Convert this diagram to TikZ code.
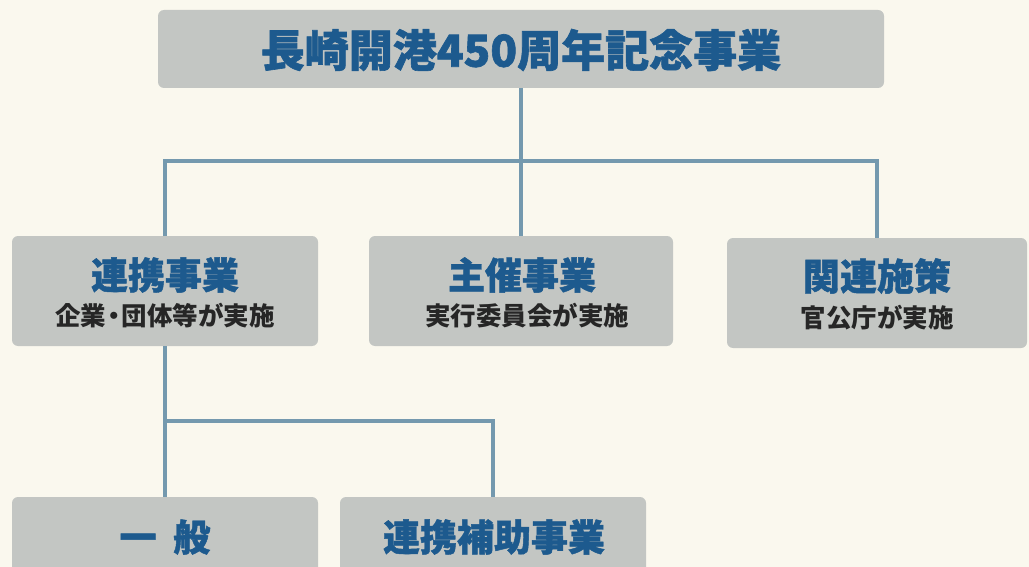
\documentclass[tikz,border=0pt]{standalone}
\usepackage{fontspec}
\newfontfamily\jp{Noto Sans CJK JP}
\definecolor{bgc}{HTML}{FAF8EE}
\definecolor{boxc}{HTML}{C3C6C3}
\definecolor{linec}{HTML}{7499AE}
\definecolor{titlec}{HTML}{1D5A8E}
\definecolor{subc}{HTML}{262626}
\tikzset{
  box/.style={fill=boxc, rounded corners=6pt, inner sep=0pt, outer sep=0pt},
  conn/.style={draw=linec, line width=4pt},
  ttl/.style={text=titlec, inner sep=0pt, font=\jp\bfseries\addfontfeatures{FakeBold=1.2}\fontsize{37}{37}\selectfont},
  bigttl/.style={text=titlec, inner sep=0pt, font=\jp\bfseries\addfontfeatures{FakeBold=1.4}\fontsize{44}{44}\selectfont},
  sub/.style={text=subc, inner sep=0pt, font=\jp\bfseries\fontsize{25.5}{25.5}\selectfont}
}
\begin{document}
\begin{tikzpicture}[x=1pt,y=-1pt]
\useasboundingbox (0,0) rectangle (1029,567);
\clip (0,0) rectangle (1029,567);
\fill[bgc] (0,0) rectangle (1029,567);
% boxes
\node[box, minimum width=726pt, minimum height=78pt] (t) at (521,49) {};
\node[box, minimum width=306pt, minimum height=110pt] (b1) at (165,291) {};
\node[box, minimum width=304pt, minimum height=110pt] (b2) at (521,291) {};
\node[box, minimum width=300pt, minimum height=110pt] (b3) at (877,293) {};
\node[box, minimum width=306pt, minimum height=100pt] (b4) at (165,547) {};
\node[box, minimum width=306pt, minimum height=100pt] (b5) at (493,547) {};
% connectors
\coordinate (j1) at (521,161);
\coordinate (j2) at (165,421);
\draw[conn] (t.south) -- (b2.north);
\draw[conn] (b1.north) |- (j1) -| (b3.north);
\draw[conn] (b1.south) -- (b4.north);
\draw[conn] (j2) -| (b5.north);
% texts
\node[bigttl] (tt) at (521,50) {長崎開港450周年記念事業};
\node[ttl] (t1) at (165,275) {連携事業};
\node[sub] (s1) at (165,316) {企業{\hspace{-0.2em}}・{\hspace{-0.2em}}団体等が実施};
\node[ttl] (t2) at (522,275) {主催事業};
\node[sub] (s2) at (527,316) {実行委員会が実施};
\node[ttl] (t3) at (877,276) {関連施策};
\node[sub] (s3) at (877,318) {官公庁が実施};
\node[ttl] (t4) at (165,537) {一\hspace{0.45em}般};
\node[ttl] (t5) at (494,537) {連携補助事業};
\end{tikzpicture}
\end{document}
